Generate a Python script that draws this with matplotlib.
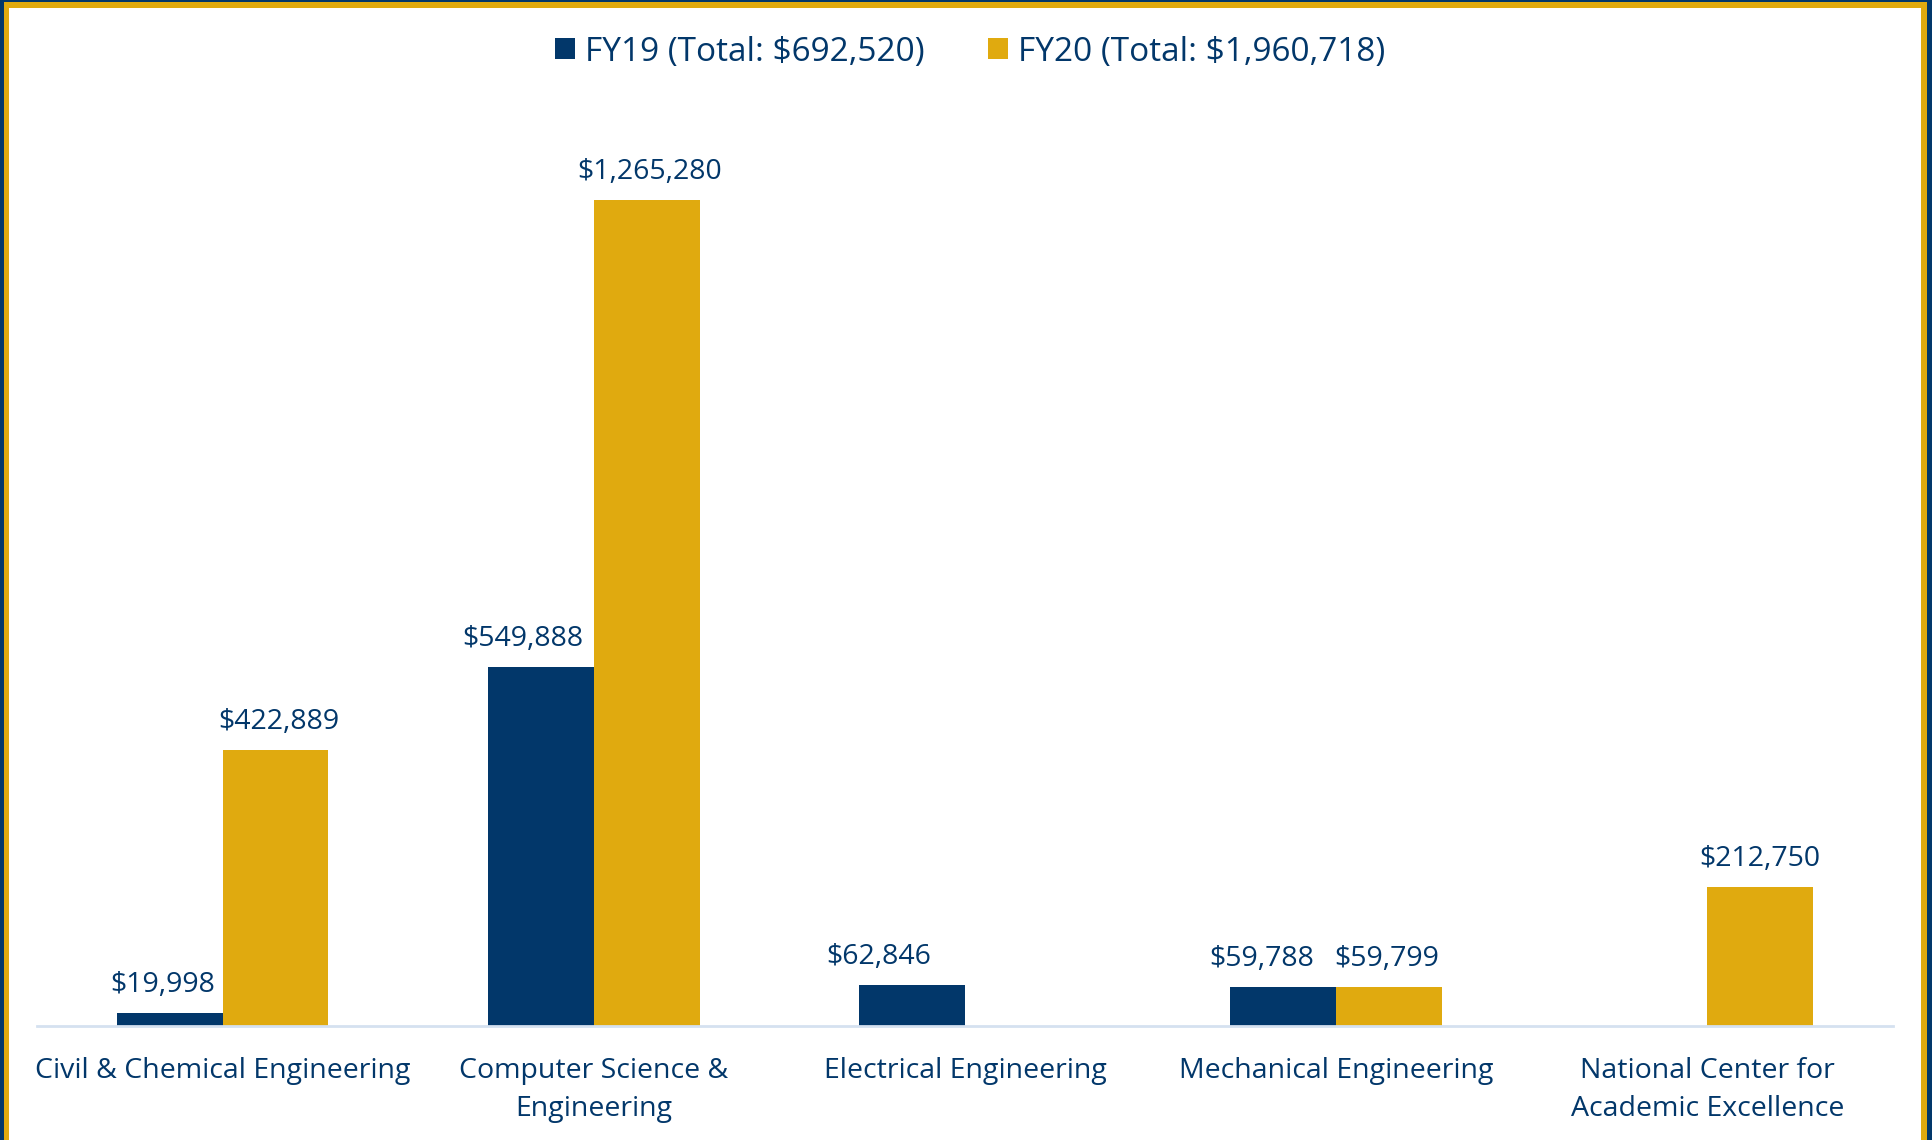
import numpy as np
import matplotlib.pyplot as plt
from matplotlib.patches import Rectangle

# department labels and funding per fiscal year
categories = ["Civil & Chemical Engineering", "Computer Science &\nEngineering",
              "Electrical Engineering", "Mechanical Engineering",
              "National Center for\nAcademic Excellence"]
fy19 = [19998, 549888, 62846, 59788, 0]
fy20 = [422889, 1265280, 0, 59799, 212750]
series_names = ["FY19 (Total: $692,520)", "FY20 (Total: $1,960,718)"]

NAVY = "#02376A"
GOLD = "#E0AA0F"

# label nudges (px) so the FY19 labels sit like in the source chart
nudge19 = [-7, -18, -33, -22, 0]
nudge20 = [3, 3, 0, -2, 0]

plt.rcParams['font.family'] = ['Open Sans', 'DejaVu Sans']

W, H = 1933, 1140
fig = plt.figure(figsize=(W / 100, H / 100), dpi=100)

# axes placed in pixel terms: x from 37 to 1893, baseline y=1026, top y=112
left, right, base, top = 37, 1893, 1026, 112
ax = fig.add_axes([left / W, 1 - base / H, (right - left) / W, (base - top) / H])

x = np.arange(len(categories))
bw = 0.285
b19 = ax.bar(x - bw / 2, fy19, bw, color=NAVY, label=series_names[0])
b20 = ax.bar(x + bw / 2, fy20, bw, color=GOLD, label=series_names[1])

for bars, vals, nudge in ((b19, fy19, nudge19), (b20, fy20, nudge20)):
    for rect, v, dx in zip(bars, vals, nudge):
        if v == 0:
            continue
        ax.annotate(f"${v:,}", (rect.get_x() + rect.get_width() / 2, v),
                    xytext=(dx, 28), textcoords="offset pixels",
                    ha="center", va="center", fontsize=20.5, color=NAVY)

ax.set_xlim(-0.5, len(categories) - 0.5)
ax.set_ylim(0, 1.4e6)
ax.set_yticks([])
ax.set_xticks(x)
ax.set_xticklabels(categories, fontsize=20.5, color=NAVY, linespacing=1.5)
ax.tick_params(axis="x", length=0, pad=22)
for s in ("top", "right", "left"):
    ax.spines[s].set_visible(False)
ax.spines["bottom"].set_color("#D5E1F0")
ax.spines["bottom"].set_linewidth(2)

leg = fig.legend(loc="center", bbox_to_anchor=(0.502, 1 - 52 / H), ncol=2,
                 frameon=False, fontsize=24, handlelength=0.6, handleheight=0.6,
                 handletextpad=0.3, columnspacing=1.9)
for t in leg.get_texts():
    t.set_color(NAVY)

# decorative frame: navy outer edge, gold inner edge
def px_rect(x0, y0, w, h, color):
    fig.patches.append(Rectangle((x0 / W, 1 - (y0 + h) / H), w / W, h / H,
                                 transform=fig.transFigure, color=color, lw=0, zorder=10))

px_rect(0, 0, W, 2, NAVY)
px_rect(0, 0, 4, H, NAVY)
px_rect(W - 6, 0, 6, H, NAVY)
px_rect(4, 2, W - 10, 6, GOLD)
px_rect(4, 2, 5, H, GOLD)
px_rect(W - 12, 2, 6, H, GOLD)

fig.savefig("out.png", dpi=100)
